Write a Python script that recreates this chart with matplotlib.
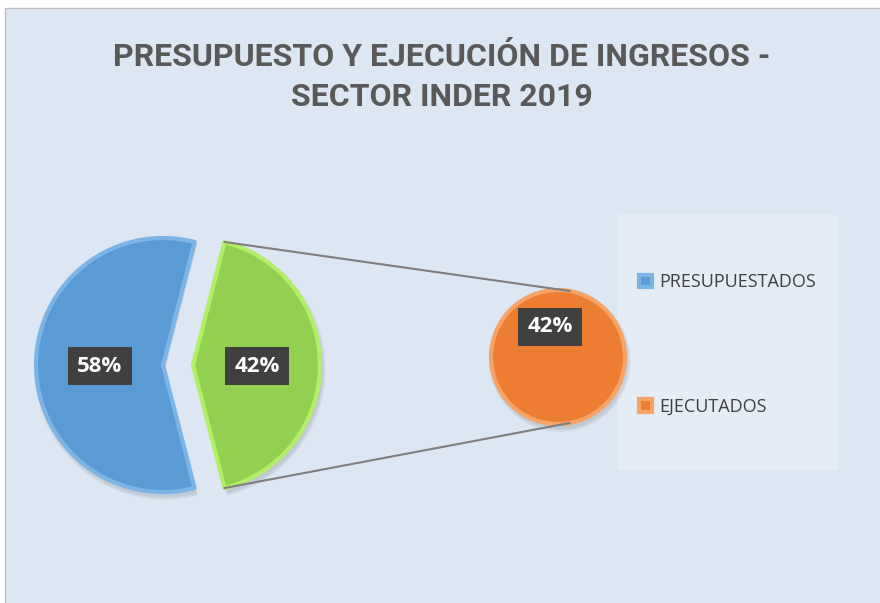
import numpy as np
import matplotlib
matplotlib.use("Agg")
import matplotlib.pyplot as plt
from matplotlib.patches import Rectangle

# data
main_values = [58, 42]
sub_values = [42]
legend_labels = ["PRESUPUESTADOS", "EJECUTADOS"]
title = "PRESUPUESTO Y EJECUCIÓN DE INGRESOS -\nSECTOR INDER 2019"

blue, green, orange = "#5b9bd5", "#92d050", "#ed7d31"
rims = ["#7db4e6", "#b2ef66", "#f7a366"]
bg = "#dce7f3"

W, H = 880, 603
fig = plt.figure(figsize=(W / 100, H / 100), dpi=100, facecolor="white")
ax = fig.add_axes([0, 0, 1, 1])

# chart area background
ax.add_patch(Rectangle((5, -2), W, H - 8 + 2, facecolor=bg, edgecolor="#bfbfbf", lw=1, zorder=0))
# legend box
ax.add_patch(Rectangle((617, H - 470), 221, 255, facecolor="#e4ecf5", edgecolor="none", zorder=0))

c1 = (178, H - 365)
r1 = 127
gap = 15
total = sum(main_values)
start = 180 * main_values[1] / total  # green slice centred on the right

c2 = (558, H - 357)
r2 = 67

# soft shadows
for k in range(4):
    ax.pie(main_values, colors=["#000000"] * 2, center=(c1[0] + 2, c1[1] - 4), radius=r1 + 4 - k,
           startangle=start, explode=[gap, gap], frame=True,
           wedgeprops=dict(edgecolor="none", alpha=0.03))
    ax.pie(sub_values, colors=["#000000"], center=(c2[0] + 2, c2[1] - 4), radius=r2 + 4 - k,
           startangle=90, frame=True, wedgeprops=dict(edgecolor="none", alpha=0.03))

# main pie
wedges1, _ = ax.pie(main_values, colors=[blue, green], center=c1, radius=r1,
                    startangle=start, explode=[gap, gap], frame=True,
                    wedgeprops=dict(lw=3))
for w, rc in zip(wedges1, rims[:2]):
    w.set_edgecolor(rc)
    w.set_joinstyle("round")

# secondary pie
wedges2, _ = ax.pie(sub_values, colors=[orange], center=c2, radius=r2,
                    startangle=90, frame=True, wedgeprops=dict(lw=3, edgecolor=rims[2]))

ax.set_xlim(0, W)
ax.set_ylim(0, H)
ax.set_aspect("equal")
ax.axis("off")

# connector lines from green slice edges to the small pie
half = np.deg2rad(start)
gx = c1[0] + gap
for s in (1, -1):
    x0 = gx + r1 * np.cos(half)
    y0 = c1[1] + s * r1 * np.sin(half)
    a = np.deg2rad(80)
    x1 = c2[0] + r2 * np.cos(a)
    y1 = c2[1] + s * r2 * np.sin(a)
    ax.plot([x0, x1], [y0, y1], color="#7f7f7f", lw=1.5, zorder=1)

# data labels
box = dict(boxstyle="square,pad=0.4", facecolor="#404040", edgecolor="none")
lab = dict(color="white", fontsize=16, fontweight="bold", ha="center", va="center",
           family="Open Sans", bbox=box, zorder=5)
ax.text(100, H - 366, f"{main_values[0]}%", **lab)
ax.text(257, H - 366, f"{main_values[1]}%", **lab)
ax.text(550, H - 327, f"{sub_values[0]}%", **lab)

# legend
ax.legend([wedges1[0], wedges2[0]], legend_labels, loc="upper left",
          bbox_to_anchor=(623 / W, 1 - 257 / H), frameon=False,
          handlelength=0.7, handleheight=0.7, handletextpad=0.4,
          labelspacing=5.9, prop=dict(family="Open Sans", size=13),
          labelcolor="#404040")

# title
fig.text(442 / W, 1 - 77 / H, title, ha="center", va="center", fontsize=23,
         fontweight="bold", color="#595959", family="Roboto", linespacing=1.45)

fig.savefig("out.png", dpi=100, facecolor=fig.get_facecolor())
